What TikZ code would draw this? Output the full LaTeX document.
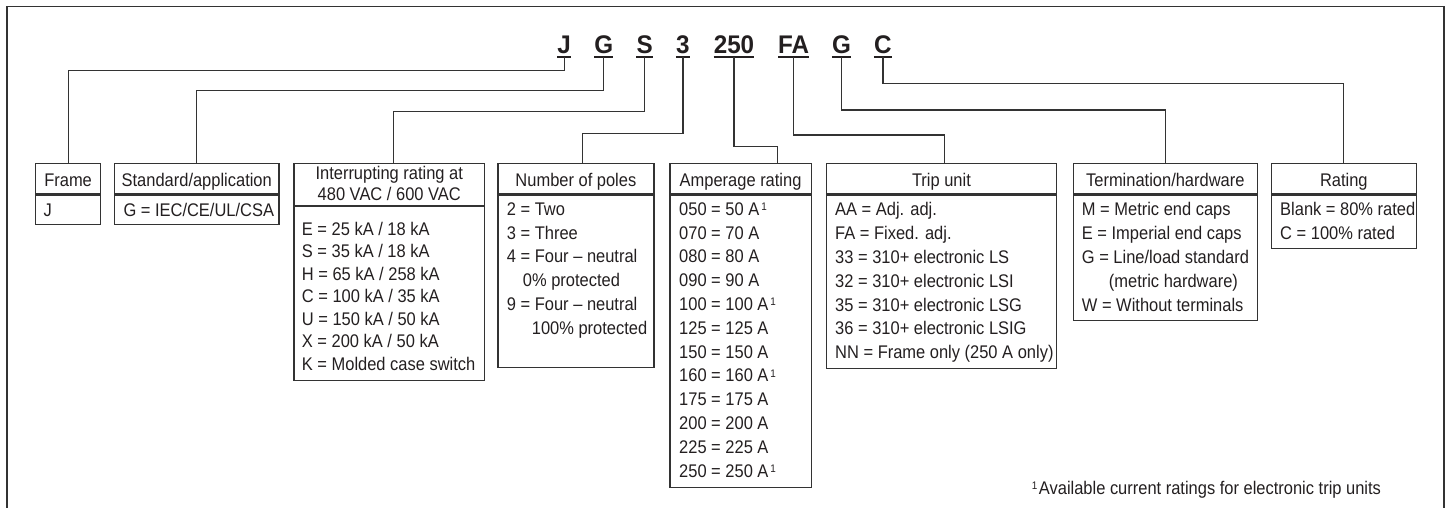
\documentclass[tikz,border=0pt]{standalone}
\usepackage{fontspec}
\setmainfont{Liberation Sans}[FakeStretch=0.9]
\newfontfamily\codefont{Liberation Sans}[FakeStretch=0.95]
\usetikzlibrary{calc}
\definecolor{ink}{HTML}{231F20}
\definecolor{linec}{HTML}{333333}
\newcommand\txtsize{\fontsize{18.3}{23.8}\selectfont}
\newcommand\fnmark{\hspace{2pt}\raisebox{4.8pt}{\fontsize{11}{11}\selectfont 1}}
\begin{document}
\begin{tikzpicture}[x=1pt,y=-1pt,
  code/.style={font=\codefont\bfseries\fontsize{25.5}{25.5}\selectfont, text=ink, inner sep=0pt, anchor=base},
  uline/.style={draw=ink, line width=2.2pt},
  conn/.style={draw=linec, line width=1.2pt},
  frameline/.style={draw=linec, line width=1.5pt},
  hbox/.style={draw=linec, line width=1.2pt, inner sep=0pt, anchor=north west},
  htext/.style={font=\txtsize, text=ink, inner sep=0pt, anchor=base},
  btext/.style={font=\txtsize, text=ink, inner sep=0pt, anchor=north west, align=left,
    execute at begin node={\rule{0pt}{14.5pt}}},
]
\useasboundingbox (0,0) rectangle (1450,508);
% outer frame (open at the bottom)
\draw[frameline] (7,510) -- (7,6.7) -- (1444,6.7) -- (1444,510);

% catalogue code letters
\node[code] (cJ)  at (564.2,53.3) {J};
\node[code] (cG)  at (603.7,53.3) {G};
\node[code] (cS)  at (644.7,53.3) {S};
\node[code] (c3)  at (682.9,53.3) {3};
\node[code] (c250) at (734,53.3) {250};
\node[code] (cFA) at (793.7,53.3) {FA};
\node[code] (cG2) at (841.5,53.3) {G};
\node[code] (cC)  at (882.9,53.3) {C};
\foreach \n in {cJ,cG,cS,c3,c250,cFA,cG2,cC}
  \draw[uline] (\n.west |- 0,57) -- (\n.east |- 0,57);

% boxes: headers
\node[hbox, minimum width=65pt,    minimum height=30.6pt] (frameH) at (35,162.7) {};
\node[hbox, minimum width=164.3pt, minimum height=30.6pt] (stdH)   at (114,162.7) {};
\node[hbox, minimum width=190.7pt, minimum height=42.3pt] (intH)   at (293.3,162.7) {};
\node[hbox, minimum width=156pt,   minimum height=30.6pt] (polH)   at (497.3,162.7) {};
\node[hbox, minimum width=141.4pt, minimum height=30.6pt] (ampH)   at (669.3,162.7) {};
\node[hbox, minimum width=230.3pt, minimum height=30.6pt] (tripH)  at (825.7,162.7) {};
\node[hbox, minimum width=184pt,   minimum height=30.6pt] (termH)  at (1072.7,162.7) {};
\node[hbox, minimum width=145pt,   minimum height=30.6pt] (ratH)   at (1270.7,162.7) {};

% boxes: bodies
\node[hbox, minimum width=65pt,    minimum height=29pt]    (frameB) at (frameH.south west) {};
\node[hbox, minimum width=164.3pt, minimum height=29pt]    (stdB)   at (stdH.south west) {};
\node[hbox, minimum width=190.7pt, minimum height=173.3pt] (intB)   at (intH.south west) {};
\node[hbox, minimum width=156pt,   minimum height=172.7pt] (polB)   at (polH.south west) {};
\node[hbox, minimum width=141.4pt, minimum height=292.7pt] (ampB)   at (ampH.south west) {};
\node[hbox, minimum width=230.3pt, minimum height=173.4pt] (tripB)  at (tripH.south west) {};
\node[hbox, minimum width=184pt,   minimum height=125pt]   (termB)  at (termH.south west) {};
\node[hbox, minimum width=145pt,   minimum height=53.4pt]  (ratB)   at (ratH.south west) {};

% header texts
\node[htext] (frameHT) at ($(frameH.south)+(0,-7.6)$) {Frame};
\node[htext] (stdHT)   at ($(stdH.south)+(0,-7.6)$) {Standard/application};
\node[htext, anchor=north, align=center, font=\fontsize{18.3}{21}\selectfont,
      execute at begin node={\rule{0pt}{14.5pt}}] (intHT) at ($(intH.north)+(0,3.5)$)
      {Interrupting rating at\\480 VAC / 600 VAC};
\node[htext] (polHT)   at ($(polH.south)+(0,-7.6)$) {Number of poles};
\node[htext] (ampHT)   at ($(ampH.south)+(0,-7.6)$) {Amperage rating};
\node[htext] (tripHT)  at ($(tripH.south)+(0,-7.6)$) {Trip unit};
\node[htext] (termHT)  at ($(termH.south)+(0,-7.6)$) {Termination/hardware};
\node[htext] (ratHT)   at ($(ratH.south)+(0,-7.6)$) {Rating};

% body texts
\node[btext] (frameT) at ($(frameB.north west)+(8.3,7.2)$) {J};
\node[btext] (stdT)   at ($(stdB.north west)+(9.3,7.2)$) {G = IEC/CE/UL/CSA};
\node[btext, font=\fontsize{18.3}{22.5}\selectfont] (intT) at ($(intB.north west)+(8.4,15.5)$)
  {E = 25 kA / 18 kA\\S = 35 kA / 18 kA\\H = 65 kA / 258 kA\\C = 100 kA / 35 kA\\U = 150 kA / 50 kA\\X = 200 kA / 50 kA\\K = Molded case switch};
\node[btext] (polT) at ($(polB.north west)+(9.4,7.9)$)
  {2 = Two\\3 = Three\\4 = Four -- neutral\\\hspace*{16pt}0\% protected\\9 = Four -- neutral\\\hspace*{25pt}100\% protected};
\node[btext] (ampT) at ($(ampB.north west)+(9.7,7.9)$)
  {050 = 50 A\fnmark\\070 = 70 A\\080 = 80 A\\090 = 90 A\\100 = 100 A\fnmark\\125 = 125 A\\150 = 150 A\\160 = 160 A\fnmark\\175 = 175 A\\200 = 200 A\\225 = 225 A\\250 = 250 A\fnmark};
\node[btext] (tripT) at ($(tripB.north west)+(9.3,7.9)$)
  {AA = Adj. adj.\\FA = Fixed. adj.\\33 = 310+ electronic LS\\32 = 310+ electronic LSI\\35 = 310+ electronic LSG\\36 = 310+ electronic LSIG\\NN = Frame only (250 A only)};
\node[btext] (termT) at ($(termB.north west)+(9,7.9)$)
  {M = Metric end caps\\E = Imperial end caps\\G = Line/load standard\\\hspace*{27pt}(metric hardware)\\W = Without terminals};
\node[btext] (ratT) at ($(ratB.north west)+(9.3,7.9)$)
  {Blank = 80\% rated\\C = 100\% rated};

% footnote
\node[htext, anchor=base west] (fnote) at (1031.7,494.3)
  {\raisebox{4.8pt}{\fontsize{11}{11}\selectfont 1}\hspace{1.5pt}Available current ratings for electronic trip units};

% connectors
\draw[conn] (cJ.center |- 0,57)   -- (cJ.center |- 0,70.7)   -| (frameH.north);
\draw[conn] (cG.center |- 0,57)   -- (cG.center |- 0,90.7)   -| (stdH.north);
\draw[conn] (cS.center |- 0,57)   -- (cS.center |- 0,111.7)  -| ($(intH.north)+(4.6,0)$);
\draw[conn] (c3.center |- 0,57)   -- (c3.center |- 0,133.3)  -| ($(polH.north)+(6.4,0)$);
\draw[conn] (c250.center |- 0,57) -- (c250.center |- 0,146.7) -| ($(ampH.north)+(36.7,0)$);
\draw[conn] (cFA.center |- 0,57)  -- (cFA.center |- 0,135)   -| ($(tripH.north)+(3.1,0)$);
\draw[conn] (cG2.center |- 0,57)  -- (cG2.center |- 0,110)   -| (termH.north);
\draw[conn] (cC.center |- 0,57)   -- (cC.center |- 0,83.3)   -| (ratH.north);
\end{tikzpicture}
\end{document}
